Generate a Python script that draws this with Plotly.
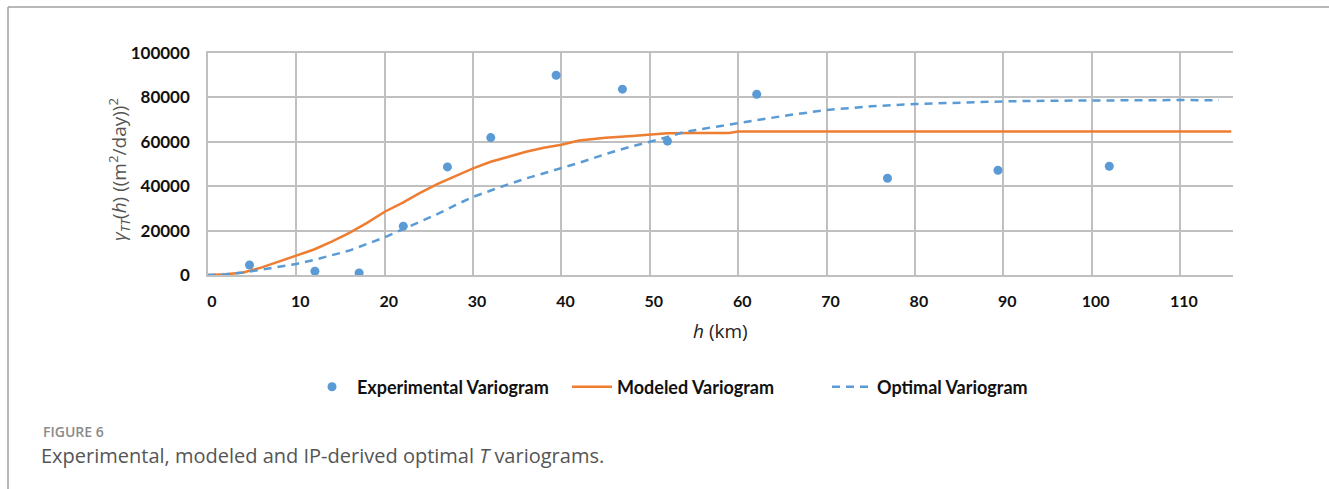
import plotly.graph_objects as go

# Experimental variogram points
exp_h = [4.7, 12.1, 17.1, 22.1, 27.1, 32.0, 39.4, 46.9, 52.0, 62.1, 76.9, 89.4, 102.0]
exp_g = [4500, 1700, 900, 22000, 48700, 61900, 90000, 83700, 60300, 81400, 43600, 47200, 49000]

# Modeled variogram
mod_h = [0, 2, 4, 6, 8, 10, 12, 14, 16, 18, 20, 22, 24, 26, 28, 30, 32, 34, 36, 38, 40,
         42, 45, 48, 50, 52, 55, 59, 60, 115.8]
mod_g = [0, 300, 1100, 3300, 6000, 8600, 11500, 15000, 19000, 23500, 28500, 32500, 37000,
         41000, 44500, 48000, 51000, 53300, 55500, 57300, 58700, 60600, 61800, 62600, 63300,
         63800, 64000, 64000, 64600, 64600]

# Optimal variogram
opt_h = [0, 2, 4, 6, 8, 10, 12, 14, 16, 18, 20, 22, 24, 26, 28, 30, 33, 36, 39, 42, 45, 48,
         51, 54, 57, 60, 63, 66, 70, 75, 80, 85, 90, 95, 100, 105, 110, 114.4]
opt_g = [0, 300, 1100, 2300, 3600, 5000, 6800, 8800, 11000, 14000, 17000, 20500, 24000,
         27500, 31500, 35200, 39500, 43500, 47000, 50500, 54500, 58000, 61000, 64500, 66500,
         68500, 70500, 72200, 74300, 76000, 77000, 77700, 78200, 78500, 78700, 78800, 78800,
         78700]

x_ticks = list(range(0, 111, 10))
y_ticks = list(range(0, 100001, 20000))
y_tick_text = [str(v) for v in y_ticks]

BLUE = "#5b9bd5"
ORANGE = "#ed7d31"
GRID = "#c0c0c0"
XFONT = dict(family="Lato, Liberation Sans, sans-serif", size=16, color="#111", weight="bold")
YFONT = dict(family="Lato, Liberation Sans, sans-serif", size=17, color="#111", weight="bold")

W, H = 1329, 489
L, R, T, B = 208, 1233, 53, 275


def px(x):
    return (x - L) / (R - L)


def py(y):
    return (B - y) / (B - T)


fig = go.Figure()
fig.add_trace(go.Scatter(x=exp_h, y=exp_g, mode="markers", name="Experimental Variogram",
                         marker=dict(color=BLUE, size=9)))
fig.add_trace(go.Scatter(x=mod_h, y=mod_g, mode="lines", name="Modeled Variogram",
                         line=dict(color=ORANGE, width=2.5)))
fig.add_trace(go.Scatter(x=opt_h, y=opt_g, mode="lines", name="Optimal Variogram",
                         line=dict(color=BLUE, width=2.5, dash="8px,6px")))

fig.update_layout(
    width=W, height=H,
    margin=dict(l=L, r=W - R, t=T, b=H - B),
    paper_bgcolor="white", plot_bgcolor="white",
    showlegend=True,
    legend=dict(orientation="h", x=px(307), xanchor="left", y=py(387), yanchor="middle",
                font=dict(family="Lato, Liberation Sans, sans-serif",
                          size=18, color="#111", weight="bold"),
                itemwidth=40, entrywidth=205, tracegroupgap=0, bgcolor="rgba(0,0,0,0)",
                borderwidth=0),
    xaxis=dict(range=[0, 116], tickvals=x_ticks, showgrid=True, gridcolor=GRID, gridwidth=1.5,
               zeroline=False, showline=True, linecolor=GRID, linewidth=1.5, mirror=True,
               ticks="", ticklabelstandoff=11, ticklabelshift=4, tickfont=XFONT),
    yaxis=dict(range=[0, 100000], tickvals=y_ticks, ticktext=y_tick_text, showgrid=True,
               gridcolor=GRID, gridwidth=1.5,
               zeroline=False, showline=True, linecolor=GRID, linewidth=1.5,
               ticks="", ticklabelstandoff=13, tickfont=YFONT),
    font=dict(family="Liberation Sans, Arial, sans-serif"),
)

fig.add_annotation(xref="paper", yref="paper", x=0.5, y=py(331), xanchor="center",
                   yanchor="middle", showarrow=False,
                   text="<i>h</i> (km)",
                   font=dict(family="Open Sans, Liberation Sans, sans-serif", size=19, color="#222"))
fig.add_annotation(xref="paper", yref="paper", x=px(119), y=py(170), xanchor="center",
                   yanchor="middle", showarrow=False, textangle=-90,
                   text="<i>γ<sub>TT</sub></i>(<i>h</i>) ((m<sup>2</sup>/day))<sup>2</sup>",
                   font=dict(family="Open Sans, Liberation Sans, sans-serif", size=19, color="#555"))
fig.add_annotation(xref="paper", yref="paper", x=px(41), y=py(431), xanchor="left",
                   yanchor="middle", showarrow=False, text="FIGURE 6",
                   font=dict(family="Open Sans, sans-serif", size=14, color="#8a8a8a", weight=600))
fig.add_annotation(xref="paper", yref="paper", x=px(39), y=py(455), xanchor="left",
                   yanchor="middle", showarrow=False,
                   text="Experimental, modeled and IP-derived optimal <i>T</i> variograms.",
                   font=dict(family="Open Sans, sans-serif", size=20, color="#555"))

# Frame lines of the figure panel
fig.add_shape(type="line", xref="paper", yref="paper", x0=px(8), x1=px(1329), y0=py(7), y1=py(7),
              line=dict(color="#a0a0a0", width=1.5))
fig.add_shape(type="line", xref="paper", yref="paper", x0=px(8), x1=px(8), y0=py(7), y1=py(489),
              line=dict(color="#a0a0a0", width=1.5))

fig.write_html("out.html")
